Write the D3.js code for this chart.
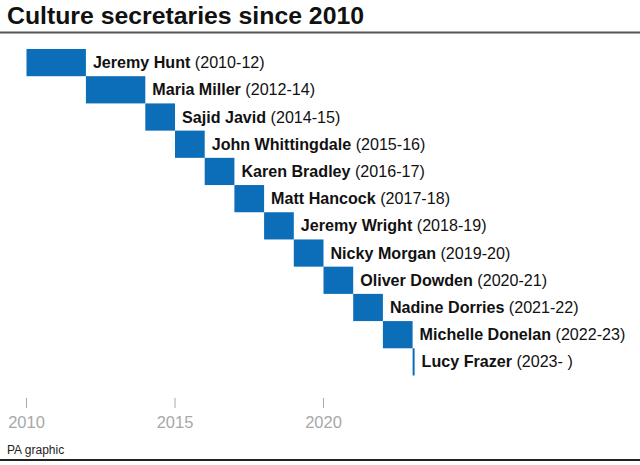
<!DOCTYPE html>
<html>
<head>
<meta charset="utf-8">
<script src="https://cdn.jsdelivr.net/npm/d3@7"></script>
<style>
  body { margin: 0; background: #fff; }
  svg { display: block; font-family: "Liberation Sans", Arial, sans-serif; }
</style>
</head>
<body>
<script>
// culture secretaries timeline

var width = 640;
var height = 465;

var names = ["Jeremy Hunt", "Maria Miller", "Sajid Javid", "John Whittingdale", "Karen Bradley",
  "Matt Hancock", "Jeremy Wright", "Nicky Morgan", "Oliver Dowden", "Nadine Dorries",
  "Michelle Donelan", "Lucy Frazer"];
var terms = ["(2010-12)", "(2012-14)", "(2014-15)", "(2015-16)", "(2016-17)", "(2017-18)",
  "(2018-19)", "(2019-20)", "(2020-21)", "(2021-22)", "(2022-23)", "(2023- )"];
var starts = [2010, 2012, 2014, 2015, 2016, 2017, 2018, 2019, 2020, 2021, 2022, 2023];
var ends = [2012, 2014, 2015, 2016, 2017, 2018, 2019, 2020, 2021, 2022, 2023, 2023];
var tickYears = [2010, 2015, 2020];

var svg = d3.select("body").append("svg")
  .attr("width", width)
  .attr("height", height);

svg.append("text")
  .attr("x", 7)
  .attr("y", 24)
  .attr("font-size", 24.8)
  .attr("font-weight", "bold")
  .attr("fill", "#111")
  .text("Culture secretaries since 2010");

svg.append("rect")
  .attr("x", 0).attr("y", 31.5)
  .attr("width", width).attr("height", 2)
  .attr("fill", "#555");

var x = d3.scaleLinear().domain([2010, 2020]).range([26.5, 323.5]);
var y = d3.scaleBand().domain(d3.range(names.length)).range([49, 375.5]).padding(0);

var rows = svg.selectAll("g.row").data(names).enter().append("g")
  .attr("class", "row")
  .attr("transform", function(d, i){ return "translate(0," + y(i) + ")"; });

rows.append("rect")
  .attr("x", function(d, i){ return x(starts[i]); })
  .attr("width", function(d, i){ return Math.max(2, x(ends[i]) - x(starts[i])); })
  .attr("height", y.bandwidth())
  .attr("fill", "#0c6db8");

var label = rows.append("text")
  .attr("x", function(d, i){ return Math.max(x(ends[i]), x(starts[i]) + 2) + 7; })
  .attr("y", y.bandwidth() / 2 + 5.5)
  .attr("font-size", 16.1)
  .attr("fill", "#111");

label.append("tspan")
  .attr("font-weight", "bold")
  .text(function(d){ return d; });
label.append("tspan")
  .text(function(d, i){ return " " + terms[i]; });

// axis
var axis = svg.append("g");
axis.selectAll("line").data(tickYears).enter().append("line")
  .attr("x1", function(d){ return x(d); })
  .attr("x2", function(d){ return x(d); })
  .attr("y1", 398).attr("y2", 408)
  .attr("stroke", "#aaa").attr("stroke-width", 1);
axis.selectAll("text").data(tickYears).enter().append("text")
  .attr("x", function(d){ return x(d); })
  .attr("y", 428)
  .attr("text-anchor", "middle")
  .attr("font-size", 16.5)
  .attr("fill", "#a8a8a8")
  .text(function(d){ return d; });

svg.append("text")
  .attr("x", 7)
  .attr("y", 454)
  .attr("font-size", 12)
  .attr("fill", "#222")
  .text("PA graphic");

svg.append("rect")
  .attr("x", 0).attr("y", 459)
  .attr("width", width).attr("height", 2)
  .attr("fill", "#222");
</script>
</body>
</html>
